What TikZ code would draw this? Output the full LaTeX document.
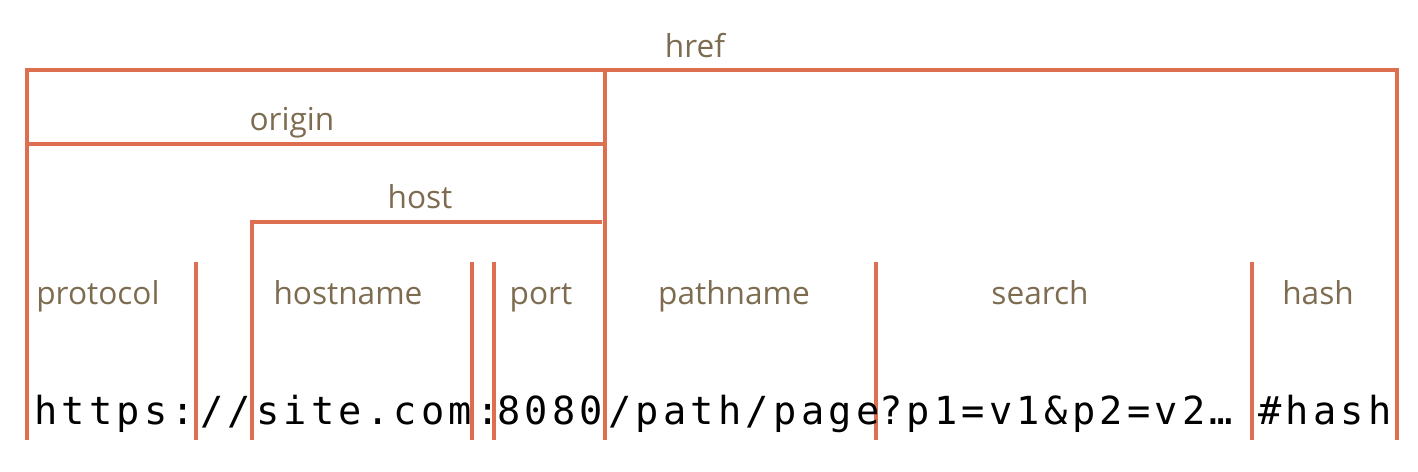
\documentclass[tikz,border=0pt]{standalone}
\usepackage{fontspec}
\usepackage{xcolor}
\usepackage{tikz}
\newfontfamily\labelfont{Open Sans}
\newfontfamily\urlfont[LetterSpace=11]{DejaVu Sans Mono}
\definecolor{urlline}{RGB}{222,110,80}
\definecolor{labeltext}{RGB}{125,108,80}
\tikzset{
  bar/.style={draw=urlline, line width=2.3pt},
  part/.style={font=\labelfont\fontsize{18}{20}\selectfont, text=labeltext, anchor=base, inner sep=0pt},
  seg/.style={font=\urlfont\fontsize{22}{24}\selectfont, text=black, anchor=base west, inner sep=0pt}
}

\begin{document}
\begin{tikzpicture}[x=0.02cm, y=-0.02cm]
        \useasboundingbox (0,0) rectangle (1418,472);
        % brackets
        \draw[bar] (27,440) -- (27,70) -- (1397,70) -- (1397,440);
        \draw[bar] (605,70) -- (605,440);
        \draw[bar] (27,144) -- (605,144);
        \draw[bar] (252,440) -- (252,222) -- (602,222);
        \foreach \sx in {196,472,494,876,1252}
          \draw[bar] (\sx,262) -- (\sx,440);
        % labels
        \node[part] (href) at (695,58) {href};
        \node[part] (origin) at (292,131) {origin};
        \node[part] (host) at (420,209) {host};
        \node[part, anchor=base west] (protocol) at (36,305) {protocol};
        \node[part] (hostname) at (348,305) {hostname};
        \node[part] (port) at (541,305) {port};
        \node[part] (pathname) at (734,305) {pathname};
        \node[part] (search) at (1040,305) {search};
        \node[part] (hash) at (1318,305) {hash};
        % url
        \node[seg] (proto) at (34,425) {https:};
        \node[seg] (slashes) at (200,425) {//};
        \node[seg] (site) at (256,425) {site.com};
        \node[seg] (colon) at (476,425) {:};
        \node[seg] (num) at (497,425) {8080};
        \node[seg] (path) at (608,425) {/path/page};
        \node[seg] (query) at (879,425) {?p1=v1\&p2=v2…};
        \node[seg] (frag) at (1258,425) {\#hash};
    \end{tikzpicture}
\end{document}
